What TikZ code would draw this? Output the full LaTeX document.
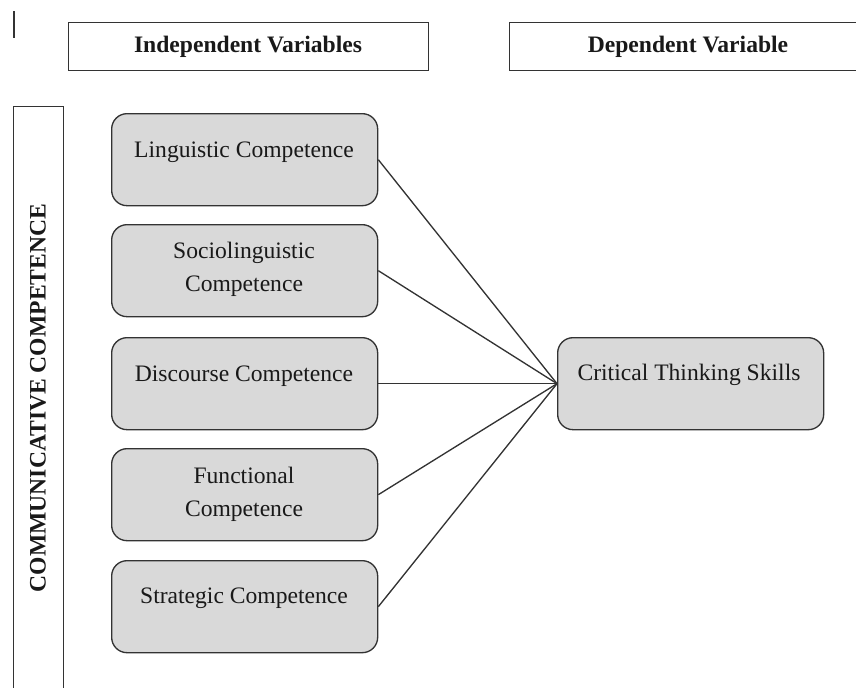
\documentclass[tikz,border=0pt]{standalone}
\usepackage{fontspec}
\setmainfont{Liberation Serif}
\definecolor{boxfill}{HTML}{D9D9D9}
\definecolor{edge}{HTML}{333333}
\begin{document}
\begin{tikzpicture}[x=0.75pt,y=-0.75pt,
  every node/.style={font=\fontsize{17.7}{24.75}\selectfont},
  header/.style={draw=edge,line width=1.1pt,rectangle,inner sep=0pt,anchor=north west},
  compbox/.style={draw=edge,fill=boxfill,line width=1pt,rounded corners=11.5pt,
     inner sep=0pt,anchor=north west,minimum width=199.5pt,minimum height=69pt},
  caption/.style={align=center,inner sep=0pt,text=black!90},
  link/.style={draw=edge,line width=1pt}]
\useasboundingbox (0,0) rectangle (856,687);
\clip (0,0) rectangle (856,687);

% short rule at the top left
\draw[edge,line width=0.8pt] (14,11) -- (14,38);

% column headers
\node[header,minimum width=270pt,minimum height=36pt] (hindep) at (68,22) {};
\node[caption,font=\fontsize{17.7}{24.75}\selectfont\bfseries] (tindep) at (248,47) {Independent Variables};
\node[header,minimum width=268.5pt,minimum height=36pt] (hdep) at (509,22) {};
\node[caption,font=\fontsize{17.7}{24.75}\selectfont\bfseries] (tdep) at (688,47) {Dependent Variable};

% side band
\node[header,minimum width=37.5pt,minimum height=450pt] (band) at (13,106) {};
\node[caption,rotate=90,font=\fontsize{17.7}{24.75}\selectfont\bfseries] (tband) at (38,398) {COMMUNICATIVE COMPETENCE};

% independent variables
\node[compbox] (ling) at (111,113) {};
\node[caption] (tling) at (244,152) {Linguistic Competence};
\node[compbox] (soc) at (111,224) {};
\node[caption] (tsoc) at (244,269.5) {Sociolinguistic\\Competence};
\node[compbox] (disc) at (111,337) {};
\node[caption] (tdisc) at (244,376) {Discourse Competence};
\node[compbox] (func) at (111,448) {};
\node[caption] (tfunc) at (244,494.5) {Functional\\Competence};
\node[compbox] (strat) at (111,560) {};
\node[caption] (tstrat) at (244,598) {Strategic Competence};

% dependent variable
\node[compbox] (crit) at (557,337) {};
\node[caption] (tcrit) at (689,375) {Critical Thinking Skills};

% links
\foreach \n in {ling,soc,disc,func,strat}
  \draw[link] (\n.east) -- (crit.west);
\end{tikzpicture}
\end{document}
